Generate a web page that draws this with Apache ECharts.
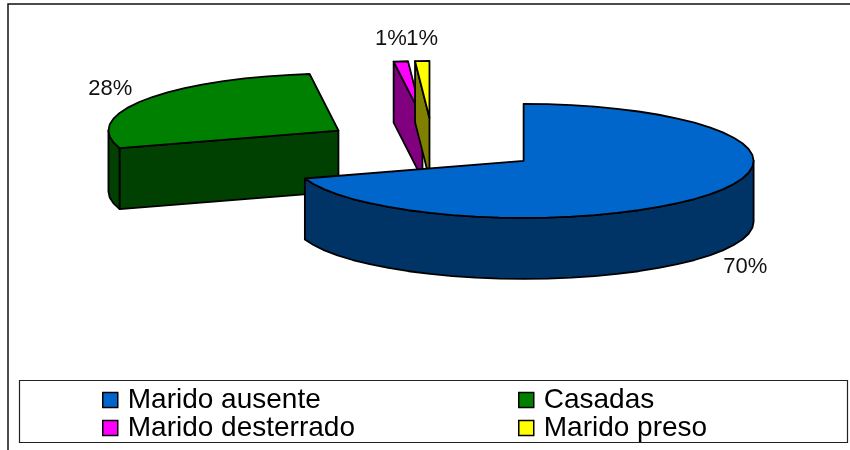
<!DOCTYPE html>
<html>
<head>
<meta charset="utf-8">
<style>
  html, body { margin: 0; padding: 0; background: #fff; }
  #chart { width: 850px; height: 450px; }
</style>
</head>
<body>
<div id="chart"></div>
<script src="https://cdn.jsdelivr.net/npm/echarts@6/dist/echarts.min.js"></script>
<script>
const categories = ['Marido ausente', 'Casadas', 'Marido desterrado', 'Marido preso']
const percents = [70, 28, 1, 1]
const topColors = ['#0066CC', '#008000', '#FF00FF', '#FFFF00']
const sideColors = ['#003366', '#004000', '#800080', '#808000']

// pie projection, the library has no 3d pie so it is drawn in a custom series
const centerX = 433
const centerY = 145
const radiusX = 230
const radiusY = 57
const depth = 61
const explodeX = 112
const explodeY = 27
// where each % label sits relative to the rim at the middle of its slice
const labelOffsets = [[35.5, 73], [-34, -11], [-10, -22], [0, -22]]

const total = percents.reduce((a, b) => a + b, 0)
const toRad = (deg) => deg * Math.PI / 180

const rimPoint = (cx, cy, deg) => [
  cx + radiusX * Math.sin(toRad(deg)),
  cy - radiusY * Math.cos(toRad(deg)),
]

const arcPoints = (cx, cy, from, to) => {
  const pts = []
  const step = 6
  for (let a = from; a < to; a += step) {
    pts.push(rimPoint(cx, cy, a))
  }
  pts.push(rimPoint(cx, cy, to))
  return pts
}

const poly = (points, fill) => ({
  type: 'polygon',
  shape: { points },
  style: { fill, stroke: '#000', lineWidth: 1.8, lineJoin: 'round' },
})

const renderSlice = (index) => () => {
  const before = percents.slice(0, index).reduce((a, b) => a + b, 0)
  const start = before / total * 360
  const end = (before + percents[index]) / total * 360
  const mid = (start + end) / 2
  const cx = centerX + explodeX * Math.sin(toRad(mid))
  const cy = centerY - explodeY * Math.cos(toRad(mid))
  const children = []

  // outer wall, only the front half of the rim shows
  const wallFrom = Math.max(start, 90)
  const wallTo = Math.min(end, 270)
  if (wallFrom < wallTo) {
    const upper = arcPoints(cx, cy, wallFrom, wallTo)
    const lower = upper.map((p) => [p[0], p[1] + depth]).reverse()
    children.push(poly(upper.concat(lower), sideColors[index]))
  }
  // cut faces
  const faces = []
  if (start > 180 && start < 360) faces.push(start)
  if (end > 0 && end < 180) faces.push(end)
  faces.forEach((deg) => {
    const rim = rimPoint(cx, cy, deg)
    children.push(poly([
      [cx, cy], rim, [rim[0], rim[1] + depth], [cx, cy + depth],
    ], sideColors[index]))
  })
  // top face
  children.push(poly([[cx, cy]].concat(arcPoints(cx, cy, start, end)), topColors[index]))

  const anchor = rimPoint(cx, cy, mid)
  children.push({
    type: 'text',
    style: {
      x: anchor[0] + labelOffsets[index][0],
      y: anchor[1] + labelOffsets[index][1],
      text: percents[index] + '%',
      fill: '#111',
      font: '22px "Liberation Sans", Arial, sans-serif',
      textAlign: 'center',
      textVerticalAlign: 'middle',
    },
  })
  return { type: 'group', children }
}

// blue goes last, it covers the foot of the other slices
const drawOrder = [1, 2, 3, 0]

const chart = echarts.init(document.getElementById('chart'))

const legendBase = {
  orient: 'vertical',
  icon: 'rect',
  itemWidth: 15,
  itemHeight: 15,
  itemGap: 0,
  padding: 0,
  selectedMode: false,
  itemStyle: { borderColor: '#000', borderWidth: 1.5 },
  textStyle: {
    color: '#000',
    fontFamily: '"Liberation Sans", Arial, sans-serif',
    fontSize: 28,
    lineHeight: 25,
    padding: [0, 0, 0, 5],
  },
}

chart.setOption({
  animation: false,
  backgroundColor: '#fff',
  graphic: [
    {
      type: 'polyline',
      shape: { points: [[8, 450], [8, 4], [850, 4]] },
      style: { fill: 'none', stroke: '#111', lineWidth: 1.5 },
    },
    {
      type: 'rect',
      shape: { x: 19.5, y: 380.5, width: 828, height: 62 },
      style: { fill: '#fff', stroke: '#222', lineWidth: 1.2 },
    },
  ],
  legend: [
    Object.assign({}, legendBase, { left: 102, top: 386, data: [categories[0], categories[2]] }),
    Object.assign({}, legendBase, { left: 518, top: 386, data: [categories[1], categories[3]] }),
  ],
  series: drawOrder.map((i) => ({
    type: 'custom',
    name: categories[i],
    coordinateSystem: 'none',
    silent: true,
    itemStyle: { color: topColors[i] },
    data: [percents[i]],
    renderItem: renderSlice(i),
  })),
})
</script>
</body>
</html>
